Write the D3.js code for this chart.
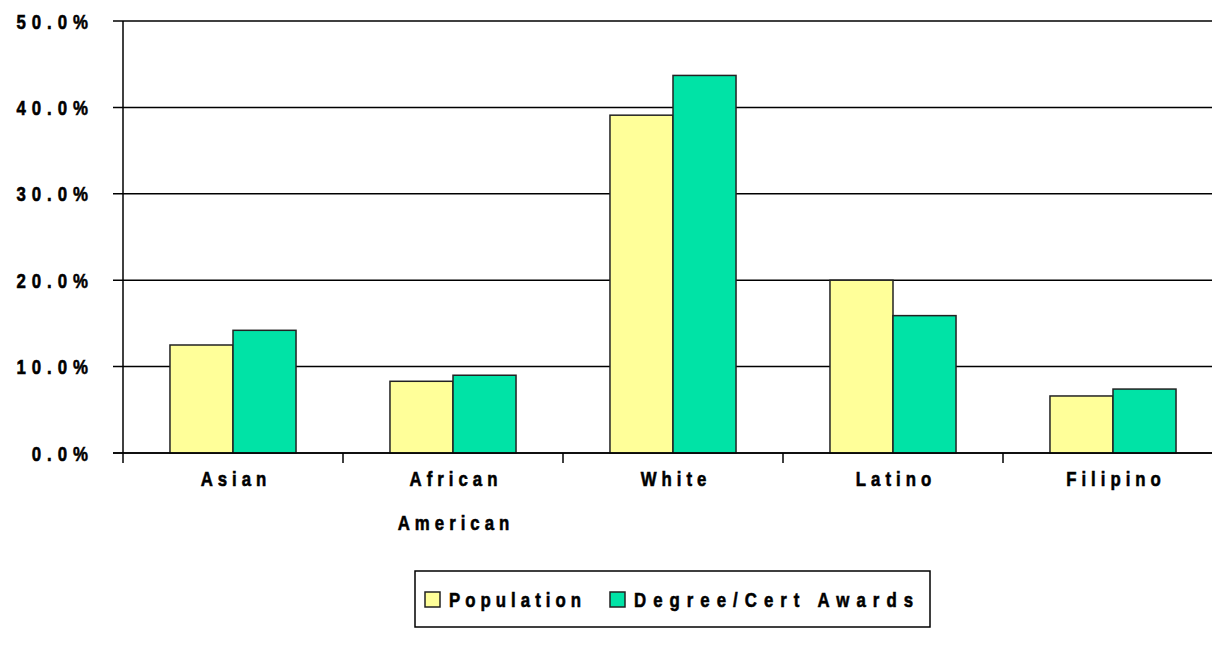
<!DOCTYPE html>
<html>
<head>
<meta charset="utf-8">
<script src="https://cdnjs.cloudflare.com/ajax/libs/d3/7.8.5/d3.min.js"></script>
<style>
  body { margin: 0; background: #fff; }
  text { font-family: "Liberation Sans", Arial, sans-serif; font-weight: bold; fill: #000; stroke: #000; stroke-width: 0.6px; }
</style>
</head>
<body>
<svg id="chart"></svg>
<script>
// chart data
var categories = ["Asian", "African American", "White", "Latino", "Filipino"];
var seriesNames = ["Population", "Degree/Cert Awards"];
var population = [12.5, 8.3, 39.1, 20.0, 6.6];
var awards = [14.2, 9.0, 43.7, 15.9, 7.4];
var yTicks = [0, 10, 20, 30, 40, 50];

var colors = ["#ffff99", "#00e3a6"];

var config = { w: 1212, h: 648, left: 123, right: 1223, top: 21, bottom: 453, squeeze: 0.8 };

var svg = d3.select("#chart")
  .attr("width", config.w)
  .attr("height", config.h);

var x0 = d3.scaleBand()
  .domain(categories)
  .range([config.left, config.right])
  .paddingInner(0.427)
  .paddingOuter(0.2135);

var x1 = d3.scaleBand()
  .domain(seriesNames)
  .range([0, x0.bandwidth()]);

var y = d3.scaleLinear()
  .domain([0, 50])
  .range([config.bottom, config.top]);

// narrow bold text, like the old Excel look
function narrow(sel, px, py) {
  return sel.attr("transform", function(d, i) {
    return "translate(" + px(d, i) + "," + py(d, i) + ") scale(" + config.squeeze + ",1)";
  });
}

// gridlines
svg.append("g")
  .selectAll("line")
  .data(yTicks)
  .enter().append("line")
    .attr("x1", config.left - 10)
    .attr("x2", config.w)
    .attr("y1", function(d) { return y(d); })
    .attr("y2", function(d) { return y(d); })
    .attr("stroke", "#000")
    .attr("stroke-width", 1.5);

// y labels
var ylab = svg.append("g")
  .selectAll("text")
  .data(yTicks)
  .enter().append("text")
    .attr("text-anchor", "end")
    .style("font-size", "21px")
    .style("letter-spacing", "7.5px")
    .text(function(d) { return d3.format(".1f")(d) + "%"; });
narrow(ylab, function() { return 94; }, function(d) { return y(d) + 7.5; });

// bars
var rows = categories.map(function(c, i) {
  return { cat: c, vals: [population[i], awards[i]] };
});

var groups = svg.append("g")
  .selectAll("g")
  .data(rows)
  .enter().append("g")
    .attr("transform", function(d) { return "translate(" + x0(d.cat) + ",0)"; });

groups.selectAll("rect")
  .data(function(d) { return d.vals.map(function(v, i) { return { s: seriesNames[i], v: v, i: i }; }); })
  .enter().append("rect")
    .attr("x", function(d) { return x1(d.s); })
    .attr("width", x1.bandwidth())
    .attr("y", function(d) { return y(d.v); })
    .attr("height", function(d) { return y(0) - y(d.v); })
    .attr("fill", function(d) { return colors[d.i]; })
    .attr("stroke", "#222")
    .attr("stroke-width", 1.5);

// x axis line and ticks
svg.append("line")
  .attr("x1", config.left - 10).attr("x2", config.w)
  .attr("y1", y(0)).attr("y2", y(0))
  .attr("stroke", "#000").attr("stroke-width", 1.5);

svg.append("line")
  .attr("x1", config.left).attr("x2", config.left)
  .attr("y1", config.top).attr("y2", y(0) + 10)
  .attr("stroke", "#000").attr("stroke-width", 1.5);

var step = x0.step();
svg.append("g")
  .selectAll("line")
  .data(categories.slice(1))
  .enter().append("line")
    .attr("x1", function(d) { return x0(d) - x0.paddingInner() * step / 2; })
    .attr("x2", function(d) { return x0(d) - x0.paddingInner() * step / 2; })
    .attr("y1", y(0))
    .attr("y2", y(0) + 10)
    .attr("stroke", "#000")
    .attr("stroke-width", 1.5);

// category labels (wrapped)
var labels = svg.append("g")
  .selectAll("text")
  .data(categories)
  .enter().append("text")
    .attr("text-anchor", "middle")
    .style("font-size", "21px")
    .style("letter-spacing", "6.25px");
narrow(labels, function(d) { return x0(d) + x0.bandwidth() / 2 + 3; }, function() { return 486; });

labels.each(function(d) {
  var t = d3.select(this);
  d.split(" ").forEach(function(w, i) {
    t.append("tspan")
      .attr("x", 0)
      .attr("dy", i == 0 ? 0 : 44)
      .text(w);
  });
});

// legend
var leg = svg.append("g").attr("transform", "translate(415,571)");
leg.append("rect")
  .attr("width", 515).attr("height", 56)
  .attr("fill", "#fff").attr("stroke", "#000").attr("stroke-width", 1.5);

var legX = [10, 195];
var legW = [132, 279];
var items = leg.selectAll("g.item")
  .data(seriesNames)
  .enter().append("g")
    .attr("class", "item")
    .attr("transform", function(d, i) { return "translate(" + legX[i] + ",21)"; });

items.append("rect")
  .attr("width", 15).attr("height", 15)
  .attr("fill", function(d, i) { return colors[i]; })
  .attr("stroke", "#222").attr("stroke-width", 1.5);

var legText = items.append("text")
  .style("font-size", "21px")
  .attr("textLength", function(d, i) { return legW[i] / config.squeeze; })
  .attr("lengthAdjust", "spacing")
  .text(function(d) { return d; });
narrow(legText, function() { return 24; }, function() { return 15; });
</script>
</body>
</html>
